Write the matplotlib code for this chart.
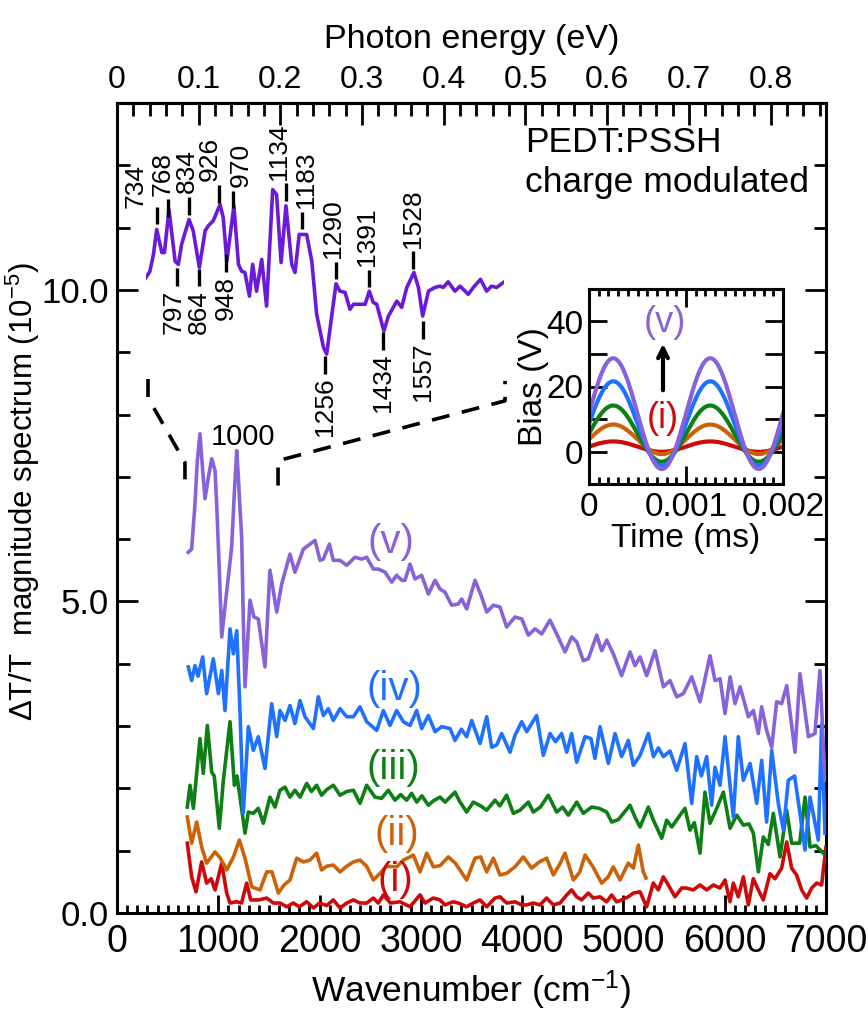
import numpy as np
import matplotlib
matplotlib.use('Agg')
import matplotlib.pyplot as plt
from matplotlib.ticker import MultipleLocator, FuncFormatter, FixedLocator

plt.rcParams['font.family'] = ['Liberation Sans', 'DejaVu Sans']
plt.rcParams['mathtext.default'] = 'regular'

# ---------------- data ----------------
wn_v = [704, 737, 770, 793, 819, 846, 869, 902, 935, 968, 984, 1010, 1034, 1066, 1099, 1132, 1158, 1182, 1198, 1214,
        1231, 1247, 1264, 1313, 1352, 1395, 1461, 1510, 1577, 1626, 1708, 1757, 1840, 1889, 1955, 2004, 2037, 2097,
        2136, 2202, 2268, 2350, 2416, 2465, 2531, 2580, 2646, 2712, 2761, 2811, 2843, 2893, 2942, 3008, 3074, 3140,
        3189, 3238, 3304, 3370, 3403, 3452, 3535, 3601, 3650, 3716, 3781, 3847, 3929, 3996, 4061, 4127, 4193, 4275,
        4341, 4423, 4489, 4539, 4604, 4653, 4736, 4785, 4835, 4900, 4982, 5065, 5114, 5164, 5230, 5312, 5394, 5460,
        5526, 5591, 5674, 5756, 5855, 5904, 5954, 6003, 6053, 6102, 6152, 6233, 6283, 6332, 6365, 6414, 6464, 6513,
        6562, 6612, 6694, 6743, 6826, 6891, 6940, 6990]
val_v = [5.79, 5.84, 6.57, 7.26, 7.69, 7.10, 6.65, 6.99, 7.29, 7.10, 6.57, 5.50, 4.43, 4.91, 5.39, 5.87, 6.73, 7.42, 7.0,
         6.5, 6.03, 4.70, 3.63, 5.02, 4.75, 4.72, 3.95, 5.50, 4.83, 5.28, 5.76, 5.47, 5.84, 5.90, 5.98, 5.66, 5.68,
         5.92, 5.66, 5.66, 5.58, 5.71, 5.68, 5.71, 5.52, 5.52, 5.47, 5.31, 5.42, 5.34, 5.34, 5.60, 5.36, 5.42, 5.12,
         5.34, 5.20, 5.15, 4.94, 4.96, 5.04, 4.88, 5.34, 5.07, 4.83, 4.94, 4.91, 4.59, 4.75, 4.72, 4.46, 4.56, 4.48,
         4.70, 4.48, 4.19, 4.43, 4.35, 4.05, 4.08, 4.46, 4.21, 4.38, 4.16, 3.81, 4.19, 3.97, 4.11, 3.81, 4.21, 3.63,
         3.73, 3.47, 3.52, 3.79, 3.39, 4.13, 3.73, 3.76, 3.20, 3.79, 3.36, 3.63, 3.15, 3.25, 2.88, 3.31, 2.93, 2.66,
         3.39, 3.36, 3.65, 2.58, 3.84, 2.83, 2.88, 3.89, 2.13]

wn_iv = [704, 737, 770, 800, 846, 885, 951, 1001, 1034, 1066, 1116, 1149, 1182, 1214, 1247, 1297, 1346, 1395, 1461,
         1527, 1577, 1609, 1659, 1708, 1757, 1807, 1856, 1939, 1988, 2037, 2087, 2136, 2202, 2268, 2334, 2399, 2465,
         2564, 2630, 2695, 2761, 2827, 2893, 2959, 3008, 3074, 3140, 3206, 3288, 3337, 3400, 3452, 3502, 3584, 3650,
         3699, 3750, 3798, 3880, 3929, 3996, 4045, 4143, 4209, 4275, 4330, 4390, 4440, 4489, 4539, 4621, 4680, 4719,
         4769, 4851, 4917, 4982, 5048, 5098, 5164, 5246, 5296, 5345, 5394, 5460, 5526, 5608, 5674, 5723, 5770, 5822,
         5871, 5904, 5954, 6003, 6085, 6134, 6184, 6250, 6316, 6365, 6414, 6464, 6529, 6579, 6628, 6690, 6743, 6793,
         6842, 6924, 6957, 6990]
val_iv = [3.95, 3.73, 3.97, 3.80, 4.11, 3.52, 4.08, 3.52, 3.89, 3.25, 4.56, 4.16, 4.53, 3.25, 1.60, 2.99, 2.61, 2.83,
          2.32, 3.36, 2.83, 3.25, 3.09, 3.33, 3.04, 3.41, 3.15, 2.96, 3.47, 3.17, 3.28, 3.09, 3.28, 3.15, 3.15, 3.31,
          3.07, 2.93, 3.25, 3.01, 3.25, 3.07, 3.01, 3.25, 2.96, 3.17, 2.91, 2.99, 2.96, 2.77, 2.95, 2.83, 3.09, 2.72,
          3.15, 2.66, 2.70, 2.88, 2.58, 2.85, 3.07, 2.91, 3.17, 2.53, 2.88, 2.75, 2.88, 2.58, 2.88, 2.42, 2.83, 2.80,
          2.48, 2.99, 2.40, 2.88, 2.51, 2.77, 2.37, 2.53, 2.88, 2.51, 2.65, 2.51, 2.60, 2.29, 2.72, 1.76, 2.51, 2.20,
          2.51, 1.73, 2.34, 2.05, 2.83, 1.54, 2.83, 2.13, 2.40, 1.76, 2.45, 1.46, 2.61, 1.76, 1.33, 2.13, 2.20, 1.60,
          1.01, 1.86, 1.17, 3.04, 1.28]

wn_iii = [694, 721, 754, 819, 852, 892, 935, 960, 1010, 1050, 1116, 1159, 1185, 1264, 1297, 1346, 1395, 1445, 1510,
          1560, 1609, 1659, 1708, 1757, 1807, 1873, 1920, 1971, 2020, 2070, 2136, 2202, 2268, 2334, 2399, 2465, 2547,
          2612, 2679, 2745, 2800, 2860, 2909, 2959, 3010, 3074, 3124, 3189, 3240, 3337, 3380, 3452, 3518, 3590, 3650,
          3732, 3780, 3847, 3913, 3980, 4061, 4110, 4180, 4258, 4341, 4400, 4456, 4539, 4604, 4686, 4760, 4835, 4884,
          4950, 5065, 5114, 5164, 5246, 5296, 5378, 5427, 5477, 5559, 5608, 5657, 5700, 5756, 5805, 5855, 5921, 5987,
          6053, 6118, 6184, 6240, 6283, 6332, 6381, 6430, 6480, 6546, 6612, 6661, 6740, 6793, 6842, 6900, 6973]
val_iii = [1.70, 2.05, 1.68, 2.80, 2.24, 3.01, 2.26, 2.20, 1.36, 2.13, 3.07, 2.05, 2.20, 1.28, 1.62, 1.60, 1.68, 1.44,
           1.86, 1.70, 1.97, 2.02, 1.86, 1.97, 1.86, 2.08, 1.95, 2.05, 1.89, 1.98, 2.05, 1.89, 1.95, 1.97, 1.76, 2.05,
           1.86, 1.84, 1.97, 1.81, 1.90, 1.81, 1.92, 1.78, 1.88, 1.73, 1.80, 1.86, 1.78, 1.94, 1.80, 1.62, 1.78, 1.72,
           1.65, 1.81, 1.72, 1.89, 1.60, 1.65, 1.78, 1.62, 1.70, 1.89, 1.62, 1.70, 1.57, 1.78, 1.60, 1.70, 1.68, 1.62,
           1.46, 1.50, 1.73, 1.54, 1.38, 1.70, 1.49, 1.20, 1.49, 1.38, 1.57, 1.68, 1.33, 1.45, 0.96, 1.94, 1.44, 1.68,
           1.94, 1.36, 1.57, 1.41, 1.43, 1.28, 0.66, 1.22, 1.10, 1.60, 0.90, 1.65, 1.12, 1.12, 1.86, 1.06, 1.08, 0.96]

wn_ii = [694, 737, 787, 836, 885, 968, 1020, 1083, 1150, 1208, 1264, 1330, 1412, 1478, 1530, 1593, 1650, 1708, 1774,
         1840, 1905, 1971, 2020, 2070, 2136, 2202, 2268, 2334, 2399, 2465, 2531, 2600, 2660, 2761, 2827, 2893, 2926,
         2992, 3058, 3124, 3190, 3271, 3340, 3452, 3535, 3590, 3650, 3716, 3781, 3850, 3929, 4012, 4094, 4170, 4242,
         4308, 4370, 4423, 4506, 4570, 4621, 4700, 4785, 4850, 4900, 4966, 5048, 5098, 5147, 5196, 5223]
val_ii = [1.54, 1.12, 1.46, 1.06, 0.80, 0.98, 0.88, 0.69, 0.90, 1.17, 0.88, 0.42, 0.37, 0.66, 0.66, 0.32, 0.45, 0.53,
          0.88, 0.82, 0.85, 0.96, 0.69, 0.75, 0.77, 0.66, 0.75, 0.82, 0.85, 0.75, 0.53, 0.64, 0.75, 0.74, 0.85, 0.90,
          0.93, 0.66, 0.96, 0.74, 0.76, 0.90, 0.80, 0.53, 0.88, 0.90, 0.66, 0.88, 0.61, 0.64, 0.74, 0.90, 0.72, 0.82,
          0.88, 0.61, 0.78, 0.96, 0.53, 0.66, 0.93, 0.74, 0.48, 0.58, 0.74, 0.53, 0.80, 0.72, 1.09, 0.66, 0.56]

wn_i = [694, 737, 780, 836, 885, 930, 968, 1034, 1083, 1116, 1180, 1230, 1280, 1320, 1400, 1478, 1544, 1610, 1675,
        1740, 1800, 1873, 1940, 2000, 2070, 2136, 2202, 2268, 2334, 2399, 2465, 2531, 2580, 2630, 2700, 2794, 2893,
        2991, 3041, 3123, 3189, 3238, 3321, 3370, 3452, 3518, 3584, 3650, 3732, 3781, 3847, 3929, 3995, 4045, 4110,
        4176, 4242, 4308, 4374, 4440, 4489, 4538, 4588, 4653, 4703, 4769, 4834, 4884, 4933, 4982, 5048, 5098, 5164,
        5229, 5295, 5345, 5394, 5443, 5509, 5575, 5624, 5690, 5756, 5822, 5888, 5953, 6003, 6052, 6085, 6134, 6184,
        6233, 6282, 6332, 6381, 6447, 6496, 6562, 6612, 6661, 6710, 6760, 6809, 6858, 6908, 6957, 7000]
val_i = [1.12, 0.58, 0.34, 0.82, 0.48, 0.55, 0.37, 0.80, 0.32, 0.16, 0.18, 0.16, 0.48, 0.21, 0.21, 0.24, 0.16, 0.16,
         0.10, 0.16, 0.10, 0.18, 0.08, 0.16, 0.12, 0.21, 0.08, 0.16, 0.21, 0.16, 0.16, 0.24, 0.16, 0.29, 0.16, 0.18,
         0.10, 0.29, 0.16, 0.24, 0.21, 0.13, 0.18, 0.16, 0.10, 0.16, 0.21, 0.10, 0.24, 0.26, 0.16, 0.18, 0.13, 0.13,
         0.16, 0.13, 0.24, 0.13, 0.16, 0.29, 0.37, 0.26, 0.21, 0.32, 0.24, 0.26, 0.18, 0.29, 0.18, 0.21, 0.26, 0.32,
         0.34, 0.10, 0.48, 0.37, 0.58, 0.45, 0.26, 0.40, 0.40, 0.37, 0.45, 0.37, 0.45, 0.40, 0.53, 0.18, 0.48, 0.26,
         0.58, 0.13, 0.55, 0.37, 0.21, 0.63, 0.55, 0.72, 1.14, 0.72, 0.61, 0.37, 0.24, 0.40, 0.48, 0.45, 1.06]

series_names = ['(i)', '(ii)', '(iii)', '(iv)', '(v)']
series_colors = ['#cc0a0a', '#cc6208', '#0d7f14', '#1f72ff', '#8762d8']

# magnified spectrum (upper-left inset)
wn_zoom = [701, 713, 724, 734, 750, 758, 772, 791, 801, 811, 834, 847, 866, 884, 894, 909, 930, 940, 951, 973, 987,
           997, 1007, 1021, 1031, 1043, 1059, 1074, 1093, 1105, 1119, 1134, 1152, 1162, 1175, 1198, 1214, 1229, 1250,
           1260, 1275, 1289, 1301, 1317, 1332, 1343, 1379, 1392, 1404, 1415, 1437, 1451, 1477, 1492, 1508, 1530, 1544,
           1557, 1575, 1595, 1611, 1621, 1636, 1657, 1673, 1698, 1714, 1736, 1755, 1770, 1786, 1807]
val_zoom = [10.20, 10.30, 10.57, 10.97, 10.60, 10.60, 11.29, 10.46, 10.41, 10.73, 11.13, 10.95, 10.36, 10.95, 11.03,
            11.11, 11.37, 11.16, 10.46, 11.35, 10.41, 10.30, 10.28, 9.90, 10.41, 9.98, 10.49, 9.74, 11.61, 11.53,
            10.44, 11.35, 10.41, 10.28, 10.89, 10.89, 10.46, 9.61, 9.08, 8.97, 9.56, 10.10, 9.98, 9.96, 9.69, 9.77,
            9.77, 9.98, 9.80, 9.77, 9.34, 9.58, 9.82, 9.72, 10.04, 10.28, 10.04, 9.58, 9.98, 10.04, 10.06, 10.04,
            10.13, 9.98, 10.06, 9.93, 10.04, 10.17, 9.98, 10.06, 10.04, 10.12]
peak_labels_up = [734, 768, 834, 926, 970, 1134, 1183, 1290, 1391, 1528]
peak_labels_down = [797, 864, 948, 1256, 1434, 1557]

# top-axis tick values (eV)
ev_ticks = [0, 0.1, 0.2, 0.3, 0.4, 0.5, 0.6, 0.7, 0.8]

# applied bias waveforms (inset): dc offset and ac amplitude, volts
bias_offset = [1.5, 3.75, 5.5, 8.6, 11.65]
bias_amplitude = [1.6, 4.55, 8.65, 13.0, 17.05]
bias_period_ms = 0.001

# ---------------- figure ----------------
W, H = 868, 1016
fig = plt.figure(figsize=(W / 100, H / 100), dpi=100)

def fx(px):
    return px / W

def fy(py):
    return 1 - py / H

ax = fig.add_axes([fx(117), fy(913), fx(826) - fx(117), fy(103) - fy(913)])
ax.set_xlim(0, 7000)
ax.set_ylim(0, 13)

main_series = [(wn_i, val_i), (wn_ii, val_ii), (wn_iii, val_iii), (wn_iv, val_iv), (wn_v, val_v)]
for (w, v), c in zip(main_series, series_colors):
    ax.plot(w, v, color=c, lw=2.6, solid_joinstyle='round', zorder=3)

label_pos = [(2745, 0.53), (2763, 1.27), (2725, 2.32), (2735, 3.59), (2705, 5.96)]
for name, c, (lx, ly) in zip(series_names, series_colors, label_pos):
    ax.text(lx, ly, name, color=c, fontsize=29, ha='center', va='center', zorder=4)

ax.text(1240, 7.42, '1000', fontsize=21, ha='center', va='bottom')
ax.text(0.576, 0.94, 'PEDT:PSSH', transform=ax.transAxes, fontsize=25.5, ha='left', va='baseline')
ax.text(0.576, 0.89, 'charge modulated', transform=ax.transAxes, fontsize=25.5, ha='left', va='baseline')

# zoom bracket (dashed)
ax.plot([306, 306, 671, 671], [8.57, 8.27, 7.23, 6.89], color='k', lw=2.6, ls=(0, (5, 3.5)))
ax.plot([1590, 1590, 3831, 3831], [6.86, 7.26, 8.22, 8.54], color='k', lw=2.6, ls=(0, (5, 3.5)))

for s in ax.spines.values():
    s.set_linewidth(2.2)
ax.xaxis.set_major_locator(MultipleLocator(1000))
ax.xaxis.set_minor_locator(MultipleLocator(100))
ax.yaxis.set_major_locator(MultipleLocator(5))
ax.yaxis.set_minor_locator(MultipleLocator(1))
ax.yaxis.set_major_formatter(FuncFormatter(lambda v, p: f'{v:.1f}'))
ax.tick_params(axis='x', which='both', direction='in', top=False, bottom=True, width=2, labelsize=27, pad=8)
ax.tick_params(axis='x', which='major', length=13)
ax.tick_params(axis='x', which='minor', length=6)
ax.tick_params(axis='y', which='both', direction='in', left=True, right=True, width=2, labelsize=25, pad=6)
ax.tick_params(axis='y', which='major', length=15)
ax.tick_params(axis='y', which='minor', length=9)
ax.set_xlabel('Wavenumber (cm$^{-1}$)', fontsize=25.5, labelpad=6)
ax.set_ylabel('ΔT/T  magnitude spectrum (10$^{-5}$)', fontsize=22.5)
ax.yaxis.set_label_coords(-0.106, 0.52)

# top axis: photon energy
CM_PER_EV = 8065.54
sec = ax.secondary_xaxis('top', functions=(lambda w: w / CM_PER_EV, lambda e: e * CM_PER_EV))
sec.xaxis.set_major_locator(FixedLocator(ev_ticks))
sec.xaxis.set_minor_locator(MultipleLocator(0.02))
sec.xaxis.set_major_formatter(FuncFormatter(lambda v, p: '0' if abs(v) < 1e-9 else f'{v:.1f}'))
sec.tick_params(which='both', direction='in', width=2, labelsize=23, pad=6)
sec.tick_params(which='major', length=16)
sec.tick_params(which='minor', length=9)
sec.spines['top'].set_linewidth(2.2)
sec.set_xlabel('Photon energy (eV)', fontsize=24.5, labelpad=12)

# ---------------- magnified spectrum inset ----------------
axz = fig.add_axes([fx(145.7), fy(913), fx(504.4) - fx(145.7), fy(103) - fy(913)])
axz.set_xlim(700, 1810)
axz.set_ylim(0, 13)
axz.axis('off')
axz.patch.set_alpha(0)
axz.plot(wn_zoom, val_zoom, color='#6a1ad8', lw=2.6, solid_joinstyle='round')
up_dx = [-21, -5, -2, -9, 8, -7, 4, -3, -2, 0]
up_dy = [-0.08, 0, 0, 0, 0, 0, 0, 0, 0, 0]
down_dx = [-3, 0, 0, 0, 0, 0]
for wn, dx, dy in zip(peak_labels_up, up_dx, up_dy):
    y = np.interp(wn, wn_zoom, val_zoom)
    axz.plot([wn, wn], [y + 0.08, y + 0.36], color='k', lw=2.4, solid_capstyle='butt')
    axz.annotate(str(wn), xy=(wn, y + 0.42 + dy), xytext=(dx * 0.72, 0), textcoords='offset points',
                 rotation=90, ha='center', va='bottom', fontsize=19)
for wn, dx in zip(peak_labels_down, down_dx):
    y = np.interp(wn, wn_zoom, val_zoom)
    axz.plot([wn, wn], [y - 0.08, y - 0.36], color='k', lw=2.4, solid_capstyle='butt')
    axz.annotate(str(wn), xy=(wn, y - 0.42), xytext=(dx * 0.72, 0), textcoords='offset points',
                 rotation=90, ha='center', va='top', fontsize=19)

# ---------------- bias inset ----------------
axb = fig.add_axes([fx(589), fy(484), fx(783) - fx(589), fy(289) - fy(484)])
axb.set_xlim(0, 0.002)
axb.set_ylim(-10, 50)
t = np.linspace(0, 0.002, 500)
for off, amp, c in zip(bias_offset, bias_amplitude, series_colors):
    axb.plot(t, off + amp * np.sin(2 * np.pi * t / bias_period_ms), color=c, lw=3)
axb.text(0.000784, 39.8, '(v)', color=series_colors[4], fontsize=26, ha='center', va='center')
axb.text(0.000763, 10.3, '(i)', color=series_colors[0], fontsize=26, ha='center', va='center')
axb.annotate('', xy=(0.000763, 34.0), xytext=(0.000763, 18.0),
             arrowprops=dict(arrowstyle='->,head_length=0.7,head_width=0.35', color='k', lw=3))
for s in axb.spines.values():
    s.set_linewidth(2.2)
axb.xaxis.set_major_locator(FixedLocator([0, 0.001, 0.002]))
axb.xaxis.set_minor_locator(MultipleLocator(0.0001))
axb.xaxis.set_major_formatter(FuncFormatter(lambda v, p: '0' if abs(v) < 1e-12 else f'{v:.3f}'))
axb.yaxis.set_major_locator(MultipleLocator(20))
axb.yaxis.set_minor_locator(MultipleLocator(10))
axb.tick_params(axis='x', which='both', direction='in', top=True, bottom=True, width=2, labelsize=24, pad=6)
axb.tick_params(axis='x', which='major', length=13)
axb.tick_params(axis='x', which='minor', length=5)
axb.tick_params(axis='y', which='both', direction='in', left=True, right=True, width=2, labelsize=24, pad=4,
                length=13)
axb.set_xlabel('Time (ms)', fontsize=24, labelpad=0)
axb.set_ylabel('Bias (V)', fontsize=24, labelpad=-2)

fig.savefig('out.png', dpi=100)
